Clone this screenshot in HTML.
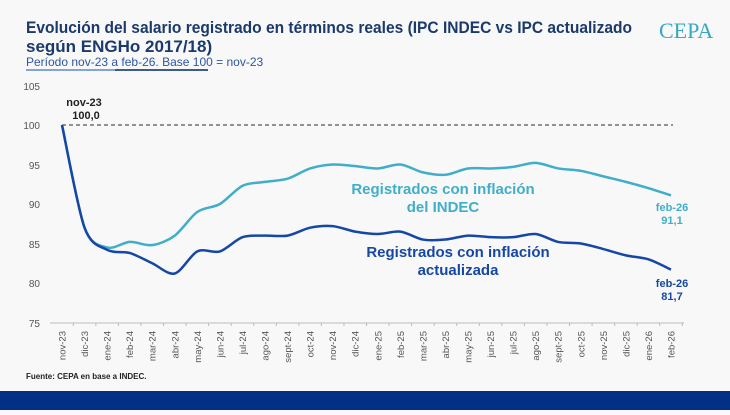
<!DOCTYPE html>
<html><head><meta charset="utf-8"><style>
body{margin:0;width:730px;height:410px;overflow:hidden;background:#f7f8f7;font-family:"Liberation Sans",sans-serif}
</style></head><body>
<svg width="730" height="410" xmlns="http://www.w3.org/2000/svg" font-family="Liberation Sans, sans-serif">
<rect width="730" height="410" fill="#f7f8f7"/>
<text x="26" y="33" font-size="17" font-weight="bold" fill="#1b3a6b" textLength="606" lengthAdjust="spacingAndGlyphs">Evolución del salario registrado en términos reales (IPC INDEC vs IPC actualizado</text>
<text x="26" y="52" font-size="17" font-weight="bold" fill="#1b3a6b">según ENGHo 2017/18)</text>
<text x="26" y="66" font-size="12" fill="#2f55a4">Período nov-23 a feb-26. Base 100 = nov-23</text>
<line x1="26" y1="70" x2="208" y2="70" stroke="#5f87c7" stroke-width="1.5"/>
<line x1="115" y1="70" x2="208" y2="70" stroke="#1b3a6b" stroke-width="1.5"/>
<text x="659" y="38" font-size="22" fill="#3aa6c6" font-family="Liberation Serif, serif">CEPA</text>
<g font-size="10" fill="#555" text-anchor="end">
<text x="40" y="90">105</text><text x="40" y="129">100</text><text x="40" y="169">95</text><text x="40" y="208">90</text><text x="40" y="248">85</text><text x="40" y="287">80</text><text x="40" y="327">75</text>
</g>
<line x1="62" y1="125" x2="673" y2="125" stroke="#555" stroke-width="1.2" stroke-dasharray="4,3"/>
<line x1="50" y1="323" x2="684" y2="323" stroke="#bbb" stroke-width="1"/>
<g id="ticks" font-size="9.5" fill="#555"></g>
<path id="l1" fill="none" stroke="#41aec9" stroke-width="2.5" stroke-linejoin="round"/>
<path id="l2" fill="none" stroke="#1747a6" stroke-width="2.5" stroke-linejoin="round"/>
<text x="84" y="106" font-size="11" font-weight="bold" fill="#222" text-anchor="middle">nov-23</text>
<text x="86" y="119" font-size="11" font-weight="bold" fill="#222" text-anchor="middle">100,0</text>
<text x="443" y="194" font-size="15" font-weight="bold" fill="#41aec9" text-anchor="middle">Registrados con inflación</text>
<text x="443" y="212" font-size="15" font-weight="bold" fill="#41aec9" text-anchor="middle">del INDEC</text>
<text x="458" y="257" font-size="15" font-weight="bold" fill="#1747a6" text-anchor="middle">Registrados con inflación</text>
<text x="458" y="275" font-size="15" font-weight="bold" fill="#1747a6" text-anchor="middle">actualizada</text>
<text x="672" y="211" font-size="11" font-weight="bold" fill="#41aec9" text-anchor="middle">feb-26</text>
<text x="672" y="224" font-size="11" font-weight="bold" fill="#41aec9" text-anchor="middle">91,1</text>
<text x="672" y="287" font-size="11" font-weight="bold" fill="#1747a6" text-anchor="middle">feb-26</text>
<text x="672" y="300" font-size="11" font-weight="bold" fill="#1747a6" text-anchor="middle">81,7</text>
<text x="26" y="379" font-size="8" font-weight="bold" fill="#222">Fuente: CEPA en base a INDEC.</text>
<rect x="0" y="391" width="730" height="19" fill="#033087"/>
</svg>
<script>
var labs=["nov-23","dic-23","ene-24","feb-24","mar-24","abr-24","may-24","jun-24","jul-24","ago-24","sept-24","oct-24","nov-24","dic-24","ene-25","feb-25","mar-25","abr-25","may-25","jun-25","jul-25","ago-25","sept-25","oct-25","nov-25","dic-25","ene-26","feb-26"];
var a=[100,87,84.5,85.2,84.8,86,89,90,92.3,92.8,93.2,94.5,95,94.8,94.5,95,94,93.7,94.5,94.5,94.7,95.2,94.5,94.2,93.5,92.8,92,91.1];
var b=[100,87,84.2,83.8,82.5,81.2,84,84,85.8,86,86,87,87.2,86.5,86.2,86.5,85.5,85.5,86,85.8,85.8,86.2,85.2,85,84.3,83.5,83,81.7];
function X(i){return 62+i*609/27}function Y(v){return 125-(v-100)*7.9}
var g=document.getElementById("ticks"),ns="http://www.w3.org/2000/svg";
labs.forEach(function(l,i){var x=X(i);var t=document.createElementNS(ns,"text");t.setAttribute("transform","translate("+(x+3.5)+",331) rotate(-90)");t.setAttribute("text-anchor","end");t.textContent=l;g.appendChild(t);
var k=document.createElementNS(ns,"line");k.setAttribute("x1",x+11.3);k.setAttribute("x2",x+11.3);k.setAttribute("y1",323);k.setAttribute("y2",326);k.setAttribute("stroke","#bbb");g.appendChild(k);});
function smooth(d){var p=d.map(function(v,i){return [X(i),Y(v)]});var s="M"+p[0][0]+","+p[0][1];
for(var i=0;i<p.length-1;i++){var p0=p[Math.max(i-1,0)],p1=p[i],p2=p[i+1],p3=p[Math.min(i+2,p.length-1)];var t=0.15;
s+=" C"+(p1[0]+(p2[0]-p0[0])*t)+","+(p1[1]+(p2[1]-p0[1])*t)+" "+(p2[0]-(p3[0]-p1[0])*t)+","+(p2[1]-(p3[1]-p1[1])*t)+" "+p2[0]+","+p2[1];}return s;}
document.getElementById("l1").setAttribute("d",smooth(a));
document.getElementById("l2").setAttribute("d",smooth(b));
</script>
</body></html>
